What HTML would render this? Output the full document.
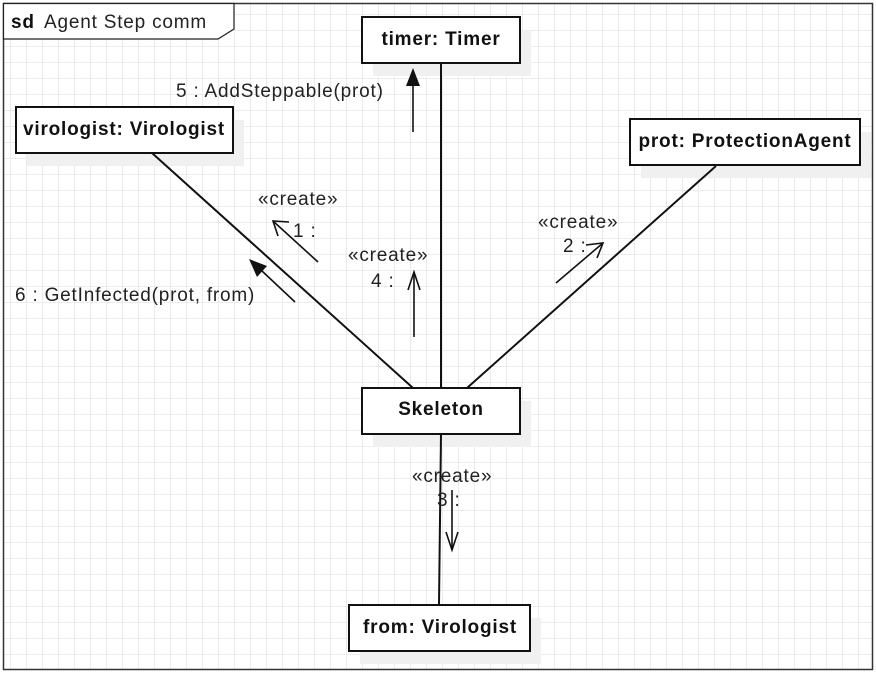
<!DOCTYPE html>
<html><head><meta charset="utf-8"><style>
html,body{margin:0;padding:0;background:#fff;}
svg{display:block;}
text{font-family:"Liberation Sans",sans-serif;font-size:19px;letter-spacing:0.8px;fill:#222;}
.b{font-weight:bold;fill:#111;letter-spacing:0.8px;}
</style></head><body>
<svg width="876" height="673" viewBox="0 0 876 673" xmlns="http://www.w3.org/2000/svg">
<defs>
<pattern id="g" width="16" height="16" patternUnits="userSpaceOnUse" x="10" y="14">
<path d="M0 0.5H16M0.5 0V16" stroke="#ebebeb" stroke-width="1" fill="none"/>
</pattern>
</defs>
<rect width="876" height="673" fill="#fff"/>
<rect x="4" y="4" width="869" height="666" fill="url(#g)"/>
<rect x="3.5" y="3.5" width="869" height="666" fill="none" stroke="#333" stroke-width="1.5"/>
<path d="M3.5 3.5H234V29L218 39H3.5Z" fill="#fff" stroke="#222" stroke-width="1.2"/>
<text x="11" y="28" class="b">sd</text>
<text x="44" y="28">Agent Step comm</text>

<g fill="#f0f0f0">
<rect x="373" y="30" width="158" height="46"/>
<rect x="27" y="120" width="217" height="46"/>
<rect x="641" y="132" width="230" height="46"/>
<rect x="373" y="401" width="158" height="46"/>
<rect x="360" y="618" width="181" height="46"/>
</g>

<g stroke="#111" stroke-width="2" fill="none">
<line x1="152" y1="153" x2="413" y2="388"/>
<line x1="441" y1="63" x2="441" y2="388"/>
<line x1="716" y1="166" x2="467" y2="388"/>
<line x1="441" y1="434" x2="439" y2="605"/>
</g>

<g fill="#fff" stroke="#111" stroke-width="2">
<rect x="362" y="17" width="158" height="46"/>
<rect x="16" y="107" width="217" height="46"/>
<rect x="630" y="119" width="230" height="46"/>
<rect x="362" y="388" width="158" height="46"/>
<rect x="349" y="605" width="181" height="46"/>
</g>
<text x="441" y="45" class="b" text-anchor="middle">timer: Timer</text>
<text x="124" y="135" class="b" text-anchor="middle">virologist: Virologist</text>
<text x="745" y="147" class="b" text-anchor="middle">prot: ProtectionAgent</text>
<text x="441" y="415" class="b" text-anchor="middle">Skeleton</text>
<text x="440" y="633" class="b" text-anchor="middle">from: Virologist</text>

<g stroke="#111" stroke-width="1.6" fill="none">
<line x1="413" y1="132" x2="413" y2="82"/>
<line x1="318" y1="262" x2="273" y2="221"/>
<polyline points="289,222 273,221 278,236"/>
<line x1="295" y1="302" x2="262" y2="271"/>
<line x1="414" y1="337" x2="414" y2="272"/>
<polyline points="408,290 414,272 420,290"/>
<line x1="556" y1="283" x2="603" y2="243"/>
<polyline points="586,245 603,243 597,258"/>
<line x1="452" y1="490" x2="452" y2="550"/>
<polyline points="446,532 452,550 458,532"/>
</g>
<polygon points="413,68 406,86 420,86" fill="#111"/>
<polygon points="249,259 267,266 257,277" fill="#111"/>

<text x="176" y="97">5 : AddSteppable(prot)</text>
<text x="258" y="205">«create»</text>
<text x="293" y="237">1 :</text>
<text x="15" y="301">6 : GetInfected(prot, from)</text>
<text x="348" y="261">«create»</text>
<text x="371" y="287">4 :</text>
<text x="538" y="228">«create»</text>
<text x="563" y="252">2 :</text>
<text x="412" y="482">«create»</text>
<text x="437" y="506">3 :</text>
</svg>
</body></html>
